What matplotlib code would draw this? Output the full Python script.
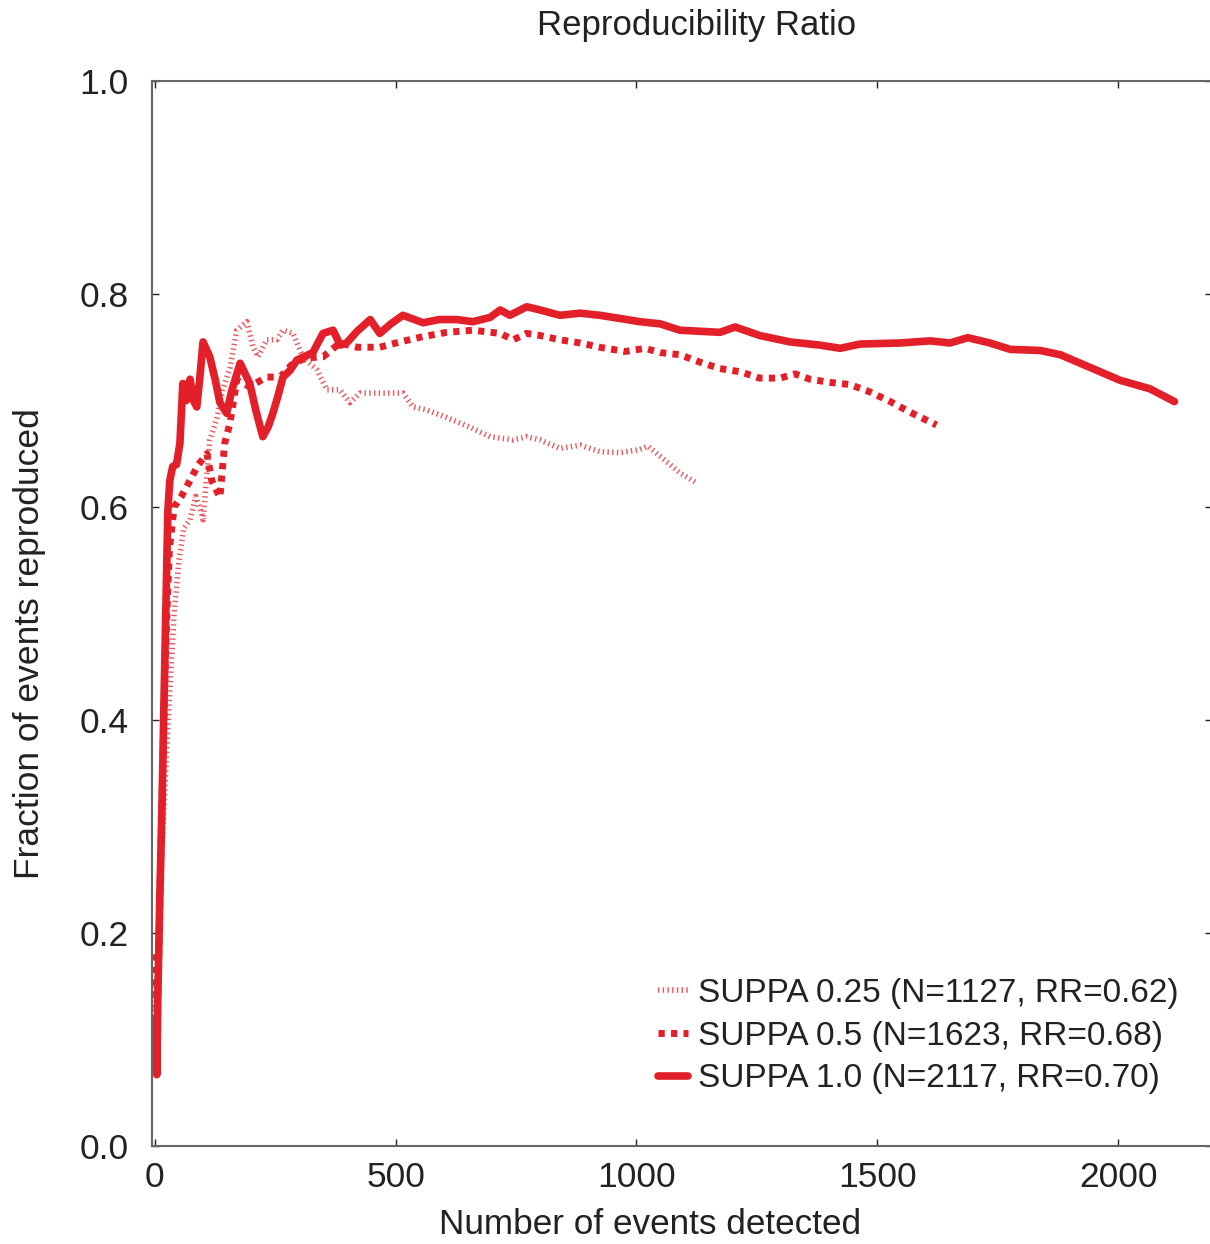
import matplotlib
matplotlib.use("Agg")
import matplotlib.pyplot as plt

plt.rcParams['font.family'] = ['Liberation Sans', 'DejaVu Sans']

# SUPPA 1.0 (solid)
x_10 = [2, 4, 6, 10, 15, 19, 23, 27, 31, 37, 45, 52, 58, 65, 73, 80, 87, 93, 100, 107, 114, 125,
        135, 149, 160, 177, 197, 210, 224, 235, 245, 256, 266, 280, 295, 328, 349, 370, 385,
        398, 420, 447, 467, 490, 515, 557, 590, 627, 660, 696, 717, 737, 772, 800, 841, 883,
        924, 966, 1007, 1049, 1090, 1132, 1173, 1205, 1256, 1319, 1381, 1423, 1464, 1547,
        1610, 1651, 1688, 1734, 1776, 1838, 1880, 1942, 2004, 2066, 2117]
y_10 = [0.12, 0.067, 0.137, 0.23, 0.325, 0.42, 0.51, 0.597, 0.625, 0.638, 0.64, 0.66, 0.716,
        0.70, 0.72, 0.70, 0.694, 0.72, 0.755, 0.748, 0.741, 0.72, 0.698, 0.688, 0.71, 0.735,
        0.716, 0.69, 0.666, 0.675, 0.688, 0.705, 0.722, 0.728, 0.738, 0.745, 0.763, 0.766,
        0.752, 0.754, 0.765, 0.776, 0.763, 0.772, 0.780, 0.773, 0.776, 0.776, 0.774, 0.778,
        0.785, 0.780, 0.788, 0.785, 0.780, 0.782, 0.780, 0.777, 0.774, 0.772, 0.766, 0.765,
        0.764, 0.769, 0.761, 0.755, 0.752, 0.749, 0.753, 0.754, 0.756, 0.754, 0.759, 0.754,
        0.748, 0.747, 0.743, 0.731, 0.719, 0.711, 0.699]

# SUPPA 0.5 (dashed)
x_05 = [1, 5, 10, 15, 20, 25, 30, 40, 55, 73, 89, 108, 118, 135, 145, 156, 170, 197, 232, 260,
        287, 315, 349, 384, 420, 467, 509, 557, 606, 660, 717, 744, 772, 800, 841, 883, 924,
        976, 1018, 1049, 1090, 1132, 1173, 1215, 1256, 1298, 1329, 1360, 1402, 1443, 1485,
        1527, 1568, 1623]
y_05 = [0.18, 0.12, 0.22, 0.33, 0.43, 0.50, 0.56, 0.60, 0.61, 0.625, 0.639, 0.650, 0.625,
        0.609, 0.66, 0.679, 0.719, 0.713, 0.722, 0.722, 0.735, 0.740, 0.741, 0.754, 0.750,
        0.750, 0.755, 0.760, 0.764, 0.766, 0.763, 0.757, 0.763, 0.761, 0.757, 0.754, 0.750,
        0.746, 0.749, 0.745, 0.743, 0.736, 0.730, 0.727, 0.721, 0.721, 0.725, 0.720, 0.717,
        0.715, 0.708, 0.699, 0.689, 0.677]

# SUPPA 0.25 (dotted)
x_025 = [1, 3, 6, 10, 15, 20, 30, 40, 50, 60, 73, 85, 97, 100, 114, 128, 141, 156, 170, 191,
         204, 214, 232, 253, 266, 287, 307, 336, 357, 384, 405, 426, 467, 515, 536, 565, 606,
         654, 696, 744, 772, 800, 841, 883, 924, 966, 1007, 1024, 1059, 1090, 1127]
y_025 = [0.15, 0.10, 0.16, 0.22, 0.28, 0.33, 0.42, 0.50, 0.55, 0.58, 0.588, 0.61, 0.594,
         0.588, 0.663, 0.682, 0.71, 0.731, 0.766, 0.774, 0.750, 0.741, 0.757, 0.757, 0.766,
         0.763, 0.741, 0.729, 0.710, 0.710, 0.698, 0.707, 0.707, 0.707, 0.694, 0.691, 0.684,
         0.675, 0.666, 0.663, 0.666, 0.663, 0.655, 0.658, 0.652, 0.651, 0.654, 0.657, 0.644,
         0.632, 0.622]

labels = ["SUPPA 0.25 (N=1127, RR=0.62)",
          "SUPPA 0.5 (N=1623, RR=0.68)",
          "SUPPA 1.0 (N=2117, RR=0.70)"]

red = "#e3202a"

fig = plt.figure(figsize=(12.10, 12.44), dpi=100)
ax = fig.add_axes([152 / 1210, 1 - 1146 / 1244, 1060 / 1210, 1065 / 1244])

ax.plot(x_025, y_025, color=red, lw=4, alpha=0.75, dashes=(0.25, 0.6),
        dash_capstyle="butt", label=labels[0])
ax.plot(x_05, y_05, color=red, lw=5, dashes=(0.9, 0.9), dash_capstyle="butt",
        label=labels[1])
ax.plot(x_10, y_10, color=red, lw=5.5, solid_capstyle="round", label=labels[2])

ax.set_xlim(-6, 2195)
ax.set_ylim(0, 1)
ax.set_xticks([0, 500, 1000, 1500, 2000])
ax.set_yticks([0.0, 0.2, 0.4, 0.6, 0.8, 1.0])
ax.set_yticklabels(["0.0", "0.2", "0.4", "0.6", "0.8", "1.0"])
ax.tick_params(direction="in", length=5, width=1, top=True, right=True,
               labelsize=25.5, colors="#222222")
ax.tick_params(axis="y", pad=17)
ax.tick_params(axis="x", pad=11)
for s in ax.spines.values():
    s.set_color("#666666")
    s.set_linewidth(1.5)

fig.text(697 / 1210, 1 - 25 / 1244, "Reproducibility Ratio", ha="center", va="center",
         fontsize=25, color="#222222")
fig.text(650 / 1210, 1 - 1225 / 1244, "Number of events detected", ha="center",
         va="center", fontsize=25.3, color="#222222")
fig.text(30 / 1210, 1 - 644 / 1244, "Fraction of events reproduced", ha="center",
         va="center", rotation=90, fontsize=25.5, color="#222222")

leg = ax.legend(loc="lower right", bbox_to_anchor=(1192 / 1060 - 152 / 1060, 0.036),
                frameon=False, fontsize=24, handlelength=0.9, handletextpad=0.3,
                labelspacing=0.35, borderaxespad=0)
for t in leg.get_texts():
    t.set_color("#222222")

plt.savefig("out.png", dpi=100)
